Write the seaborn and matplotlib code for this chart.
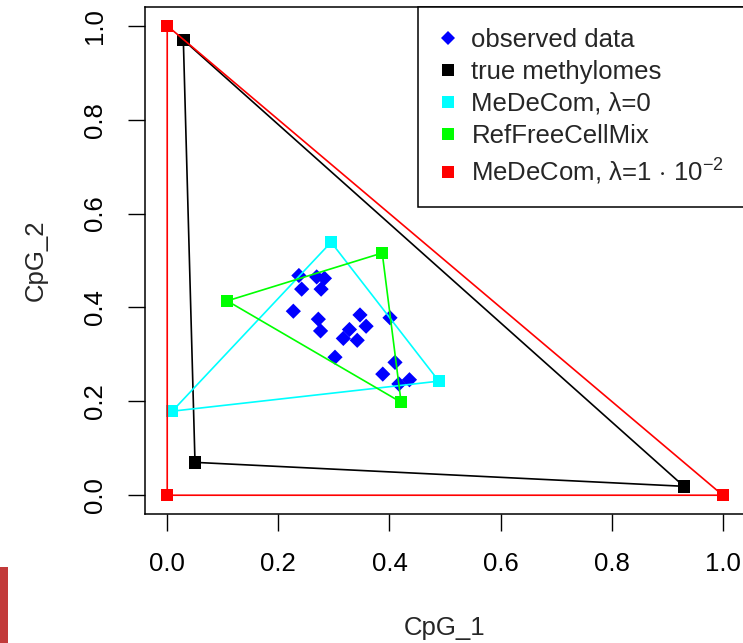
import matplotlib
matplotlib.use("Agg")
import matplotlib.pyplot as plt
from matplotlib.lines import Line2D
from matplotlib.patches import Rectangle
import numpy as np
import pandas as pd
import seaborn as sns

# observed samples (CpG_1, CpG_2)
obs_x = [0.237, 0.269, 0.283, 0.242, 0.277, 0.227, 0.272, 0.347, 0.401, 0.276,
         0.328, 0.358, 0.317, 0.342, 0.302, 0.410, 0.388, 0.436, 0.417]
obs_y = [0.468, 0.465, 0.462, 0.439, 0.439, 0.392, 0.375, 0.384, 0.378, 0.350,
         0.353, 0.360, 0.334, 0.330, 0.294, 0.283, 0.258, 0.246, 0.237]

# component methylomes per method
true_x = [0.029, 0.050, 0.930]
true_y = [0.970, 0.070, 0.019]
med0_x = [0.295, 0.009, 0.489]
med0_y = [0.539, 0.179, 0.243]
rfcm_x = [0.387, 0.108, 0.421]
rfcm_y = [0.516, 0.414, 0.198]
medl_x = [0.0, 0.0, 1.0]
medl_y = [1.0, 0.0, 0.0]

labels = ["observed data", "true methylomes", "MeDeCom, λ=0", "RefFreeCellMix",
          r"MeDeCom, λ=1$\,\cdot\,$10$^{\mathregular{-2}}$"]
colors = ["#0000FF", "#000000", "#00FFFF", "#00FF00", "#FF0000"]
ticks = [0.0, 0.2, 0.4, 0.6, 0.8, 1.0]
tick_labels = ["0.0", "0.2", "0.4", "0.6", "0.8", "1.0"]

sns.set_style("white")
plt.rcParams["font.family"] = ["Liberation Sans", "DejaVu Sans"]
plt.rcParams["mathtext.fontset"] = "custom"
plt.rcParams["mathtext.rm"] = "Liberation Sans"
plt.rcParams["mathtext.it"] = "Liberation Sans:italic"

fig = plt.figure(figsize=(7.43, 6.43), dpi=100)
ax = fig.add_axes([145 / 743, 129 / 643, 600 / 743, 507 / 643])

sns.scatterplot(x=obs_x, y=obs_y, marker="D", s=60, color=colors[0],
                edgecolor="none", linewidth=0, ax=ax, zorder=2)

groups = [(true_x, true_y), (med0_x, med0_y), (rfcm_x, rfcm_y), (medl_x, medl_y)]
for k, (gx, gy) in enumerate(groups):
    col = colors[k + 1]
    df = pd.DataFrame({"x": gx + gx[:1], "y": gy + gy[:1], "o": range(4)})
    sns.lineplot(data=df, x="x", y="y", sort=False, estimator=None, color=col,
                 linewidth=1.2, ax=ax, zorder=3 + k)
    sns.scatterplot(x=gx, y=gy, marker="s", s=80, color=col, edgecolor="none",
                    linewidth=0, ax=ax, zorder=3 + k)

ax.set_xlim(-0.04, 1.04)
ax.set_ylim(-0.04, 1.04)
ax.set_xticks(ticks)
ax.set_xticklabels(tick_labels)
ax.set_yticks(ticks)
ax.set_yticklabels(tick_labels, rotation=90, va="center")
ax.tick_params(axis="both", direction="out", length=12.5, width=1.0,
               color="black", labelsize=18.5, labelcolor="black", pad=15,
               left=True, bottom=True)
for sp in ax.spines.values():
    sp.set_visible(True)
    sp.set_color("black")
    sp.set_linewidth(1.1)
ax.set_xlabel("CpG_1", fontsize=18.5, labelpad=29)
ax.set_ylabel("CpG_2", fontsize=18.5, labelpad=25)
ax.grid(False)

handles = [Line2D([], [], linestyle="none", marker="D", markersize=7,
                  color=colors[0], markeredgewidth=0)]
handles += [Line2D([], [], linestyle="none", marker="s", markersize=8.5,
                   color=c, markeredgewidth=0) for c in colors[1:]]
leg = ax.legend(handles, labels, loc="upper right", bbox_to_anchor=(1, 1),
                borderaxespad=0, frameon=True, fancybox=False, shadow=False,
                edgecolor="black", framealpha=1, fontsize=18.5,
                handlelength=0.8, handletextpad=0.5, borderpad=0.8,
                labelspacing=0.32)
leg.get_frame().set_linewidth(1.1)

# red edge strip at the lower left corner
fig.patches.append(Rectangle((0, 0), 8 / 743, 76 / 643, transform=fig.transFigure,
                             facecolor="#c23a3a", edgecolor="none"))

fig.savefig("out.png", dpi=100)
